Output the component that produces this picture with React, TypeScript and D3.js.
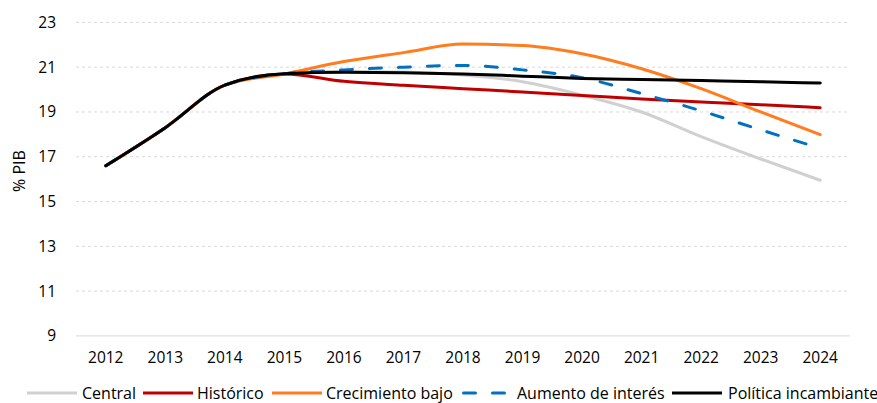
import React from "react";
import * as d3 from "d3";

const years = ["2012","2013","2014","2015","2016","2017","2018","2019","2020","2021","2022","2023","2024"];
const central = [16.6, 18.3, 20.2, 20.7, 20.8, 20.78, 20.65, 20.35, 19.75, 19.0, 17.9, 16.9, 15.95];
const historico = [16.6, 18.3, 20.2, 20.7, 20.37, 20.19, 20.04, 19.89, 19.74, 19.58, 19.44, 19.32, 19.19];
const crecimientoBajo = [16.6, 18.3, 20.2, 20.7, 21.25, 21.65, 22.03, 21.97, 21.6, 20.93, 20.04, 19.0, 17.99];
const aumentoInteres = [16.6, 18.3, 20.2, 20.7, 20.88, 21.0, 21.08, 20.88, 20.53, 19.82, 19.05, 18.2, 17.38];
const politica = [16.6, 18.3, 20.2, 20.71, 20.77, 20.75, 20.7, 20.6, 20.5, 20.45, 20.4, 20.35, 20.29];
const yTicks = [9, 11, 13, 15, 17, 19, 21, 23];

const seriesList = [
  { name: "Central", values: central, color: "#d0d0d0", dash: "" },
  { name: "Histórico", values: historico, color: "#c00000", dash: "" },
  { name: "Crecimiento bajo", values: crecimientoBajo, color: "#ff7c1f", dash: "" },
  { name: "Aumento de interés", values: aumentoInteres, color: "#0070c0", dash: "12,17" },
  { name: "Política incambiante", values: politica, color: "#000000", dash: "" },
];
const legendX = [27, 143, 272, 463.5, 672];
const legendTextX = [82, 197, 326, 517, 728];

export default function App() {
  const W = 877, H = 403;
  const left = 76, right = 850, top = 22.4, bottom = 335.9;
  const x = d3.scaleBand<string>().domain(years).range([left, right]);
  const y = d3.scaleLinear().domain([9, 23]).range([bottom, top]);
  const cx = (d: string) => (x(d) as number) + x.bandwidth() / 2;
  const line = d3.line<number>()
    .x((_, i) => cx(years[i]))
    .y((v) => y(v))
    .curve(d3.curveMonotoneX);
  const font = "'Open Sans', 'Noto Sans', sans-serif";
  return (
    <svg width={W} height={H} style={{ position: "absolute", left: 0, top: 0 }} fontFamily={font}>
      <rect width={W} height={H} fill="#fff" />
      {yTicks.map((t) => (
        <g key={t}>
          <line x1={left} x2={right} y1={y(t)} y2={y(t)} stroke="#d9d9d9" strokeWidth={1}
            strokeDasharray={t === 9 ? "" : "3,3"} />
          <text x={56} y={y(t)} dy="0.35em" textAnchor="end" fontSize={15.5} fill="#000">{t}</text>
        </g>
      ))}
      {years.map((yr) => (
        <text key={yr} x={cx(yr)} y={358} dy="0.35em" textAnchor="middle" fontSize={15.5} fill="#000">{yr}</text>
      ))}
      <text transform={`translate(19,171) rotate(-90)`} textAnchor="middle" dy="0.35em" fontSize={16}>% PIB</text>
      {seriesList.map((s) => (
        <path key={s.name} d={line(s.values) || ""} fill="none" stroke={s.color} strokeWidth={3}
          strokeDasharray={s.dash || undefined} strokeLinecap="round" strokeLinejoin="round" />
      ))}
      {seriesList.map((s, i) => (
        <g key={s.name}>
          <line x1={legendX[i]} x2={s.dash ? 507 : legendX[i] + 50} y1={393} y2={393} stroke={s.color} strokeWidth={3}
            strokeDasharray={s.dash || undefined} strokeLinecap={s.dash ? "round" : "butt"} />
          <text x={legendTextX[i]} y={393} dy="0.35em" fontSize={16}>{s.name}</text>
        </g>
      ))}
    </svg>
  );
}
